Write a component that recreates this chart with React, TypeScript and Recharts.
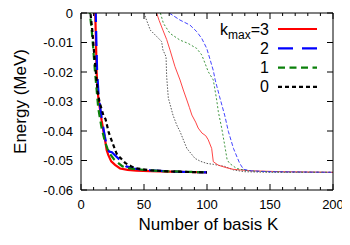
import React from "react";
import { LineChart, Line, XAxis, YAxis } from "recharts";

// ---- data (K = number of basis, E = energy in MeV) ----
const k3K = [10.8, 11.3, 11.9, 12.4, 13.0, 13.7, 14.5, 16.4, 18.0, 19.0, 20.4, 21.7, 24.0, 27.0, 31.0, 37.0, 44.0, 55.0, 70.0, 85.0, 100.0];
const k3E = [0.002, 0.0, -0.01, -0.02, -0.025, -0.0284, -0.031, -0.0365, -0.0405, -0.0428, -0.0465, -0.0482, -0.0503, -0.0515, -0.0527, -0.0532, -0.0534, -0.0536, -0.0538, -0.0539, -0.054];

const k2K = [11.3, 11.7, 12.2, 12.8, 14.0, 16.5, 19.0, 21.0, 22.5, 24.5, 27.0, 30.0, 32.5, 36.0, 42.0, 47.0, 55.0, 70.0, 85.0, 100.0];
const k2E = [0.002, 0.0, -0.01, -0.02, -0.028, -0.036, -0.042, -0.0462, -0.047, -0.0472, -0.0482, -0.0495, -0.0505, -0.052, -0.0527, -0.053, -0.0533, -0.0537, -0.0539, -0.054];

const k1K = [6.7, 7.0, 8.5, 9.8, 11.0, 12.4, 13.7, 16.4, 19.0, 21.0, 23.0, 26.0, 28.3, 33.0, 40.0, 50.0, 65.0, 80.0, 100.0];
const k1E = [0.002, 0.0, -0.0058, -0.0125, -0.0193, -0.026, -0.0323, -0.0391, -0.0436, -0.046, -0.0478, -0.0495, -0.0504, -0.052, -0.0528, -0.0532, -0.0536, -0.0538, -0.054];

const k0K = [7.2, 7.5, 9.0, 10.3, 11.8, 13.2, 14.6, 17.7, 19.5, 22.0, 25.6, 28.3, 31.0, 35.0, 40.0, 44.0, 55.0, 70.0, 85.0, 100.0];
const k0E = [0.002, 0.0, -0.006, -0.013, -0.02, -0.0265, -0.03, -0.0346, -0.036, -0.0405, -0.0447, -0.0477, -0.049, -0.0508, -0.052, -0.0527, -0.0533, -0.0537, -0.0539, -0.054];

const t3K = [60, 62, 65, 68, 70.6, 74.6, 78.6, 81.2, 84, 86, 88, 91, 93, 96, 99, 101, 103.7, 105, 109, 115, 121, 135, 160, 200];
const t3E = [0.0, -0.0025, -0.0058, -0.009, -0.0125, -0.0182, -0.0227, -0.0261, -0.0295, -0.032, -0.0346, -0.037, -0.039, -0.0407, -0.0416, -0.043, -0.0459, -0.0504, -0.0516, -0.0524, -0.053, -0.0535, -0.0538, -0.054];

const t2K = [70, 78.6, 86.5, 91.8, 95.8, 99.8, 102.4, 105, 106.5, 110, 114, 117, 121, 124, 126, 129, 135, 150, 200];
const t2E = [0.0, -0.0024, -0.0041, -0.0063, -0.0086, -0.012, -0.0157, -0.0195, -0.0227, -0.0284, -0.0346, -0.0402, -0.0459, -0.049, -0.051, -0.053, -0.0535, -0.0538, -0.054];

const t1K = [63, 65.4, 70.6, 78.6, 85, 91.8, 95.8, 98.4, 101, 105, 107.7, 109, 111.7, 114, 116, 118, 123.5, 130, 140, 160, 200];
const t1E = [0.0, -0.0035, -0.0069, -0.0092, -0.0103, -0.012, -0.0142, -0.017, -0.0199, -0.0227, -0.0295, -0.0335, -0.0391, -0.0447, -0.0498, -0.051, -0.0527, -0.0533, -0.0537, -0.0539, -0.054];

const t0K = [50, 52, 55, 59, 62, 64, 65, 67.5, 68, 69.3, 73, 76, 78.6, 84, 90.5, 95, 100, 105, 114, 121, 130, 150, 200];
const t0E = [0.0, -0.0024, -0.0058, -0.0075, -0.0088, -0.0097, -0.0125, -0.0148, -0.0216, -0.0288, -0.0346, -0.038, -0.0402, -0.0459, -0.0493, -0.0503, -0.051, -0.0513, -0.052, -0.0532, -0.0538, -0.054, -0.054];

const xTicks = [0, 10, 20, 30, 40, 50, 60, 70, 80, 90, 100, 110, 120, 130, 140, 150, 160, 170, 180, 190, 200];
const xMajorLabels = ["0", "50", "100", "150", "200"];
const yTicks = [0, -0.01, -0.02, -0.03, -0.04, -0.05, -0.06];
const yTickLabels = ["0", "-0.01", "-0.02", "-0.03", "-0.04", "-0.05", "-0.06"];
const legendLabels = ["=3", "2", "1", "0"];

const toRows = (ks: number[], es: number[]) => ks.map((k, i) => ({ k, e: es[i] }));

const FONT = "'Liberation Sans', Arial, sans-serif";

const XTickBottom = (props: any) => {
  const { x, y, payload } = props;
  const v = payload.value;
  const major = v % 50 === 0;
  const lbl = xMajorLabels.find((l) => Number(l) === v);
  return (
    <g>
      <line x1={x} x2={x} y1={y} y2={y - (major ? 6 : 3)} stroke="#000" strokeWidth={1} />
      {major && lbl !== undefined && (
        <text x={x} y={y + 19} textAnchor="middle" fontSize={13} fontFamily={FONT} fill="#000">
          {lbl}
        </text>
      )}
    </g>
  );
};

const XTickTop = (props: any) => {
  const { x, y, payload } = props;
  const major = payload.value % 50 === 0;
  return <line x1={x} x2={x} y1={y} y2={y + (major ? 6 : 3)} stroke="#000" strokeWidth={1} />;
};

const YTickLeft = (props: any) => {
  const { x, y, payload } = props;
  const idx = yTicks.findIndex((t) => Math.abs(t - payload.value) < 1e-9);
  return (
    <g>
      <line x1={x} x2={x + 6} y1={y} y2={y} stroke="#000" strokeWidth={1} />
      <text x={x - 8} y={y + 4.5} textAnchor="end" fontSize={13} fontFamily={FONT} fill="#000">
        {idx >= 0 ? yTickLabels[idx] : ""}
      </text>
    </g>
  );
};

const YTickRight = (props: any) => {
  const { x, y } = props;
  return <line x1={x} x2={x - 6} y1={y} y2={y} stroke="#000" strokeWidth={1} />;
};

const thick = [
  { data: toRows(k3K, k3E), color: "#ff0000", dash: undefined as string | undefined },
  { data: toRows(k2K, k2E), color: "#0000ff", dash: "15 9" },
  { data: toRows(k1K, k1E), color: "#0a800a", dash: "7 4.5" },
  { data: toRows(k0K, k0E), color: "#000000", dash: "4 3" },
];

const thin = [
  { data: toRows(t0K, t0E), color: "#444444", dash: "1.5 1.5" },
  { data: toRows(t3K, t3E), color: "#ff3030", dash: undefined as string | undefined },
  { data: toRows(t1K, t1E), color: "#2a8a2a", dash: "2 2" },
  { data: toRows(t2K, t2E), color: "#3030ff", dash: "4 2" },
];

export default function App() {
  const W = 350;
  const H = 245;
  return (
    <div style={{ position: "relative", width: W, height: H, margin: "-8px 0 0 -8px" }}>
      <LineChart width={W} height={H} margin={{ top: 12, right: 16, bottom: 25, left: 51 }}>
        <XAxis
          xAxisId="b"
          type="number"
          dataKey="k"
          domain={[0, 200]}
          ticks={xTicks}
          allowDataOverflow
          height={30}
          tickSize={0}
          tickMargin={0}
          tickLine={false}
          axisLine={{ stroke: "#000", strokeWidth: 1 }}
          tick={(p: any) => <XTickBottom {...p} />}
          interval={0}
        />
        <XAxis
          xAxisId="top"
          orientation="top"
          type="number"
          dataKey="k"
          domain={[0, 200]}
          ticks={xTicks}
          allowDataOverflow
          height={1}
          tickSize={0}
          tickMargin={0}
          tickLine={false}
          axisLine={{ stroke: "#000", strokeWidth: 1 }}
          tick={(p: any) => <XTickTop {...p} />}
          interval={0}
        />
        <YAxis
          yAxisId="l"
          type="number"
          domain={[-0.06, 0]}
          ticks={yTicks}
          allowDataOverflow
          width={30}
          tickSize={0}
          tickMargin={0}
          tickLine={false}
          axisLine={{ stroke: "#000", strokeWidth: 1 }}
          tick={(p: any) => <YTickLeft {...p} />}
          interval={0}
        />
        <YAxis
          yAxisId="right"
          orientation="right"
          type="number"
          domain={[-0.06, 0]}
          ticks={yTicks}
          allowDataOverflow
          width={1}
          tickSize={0}
          tickMargin={0}
          tickLine={false}
          axisLine={{ stroke: "#000", strokeWidth: 1 }}
          tick={(p: any) => <YTickRight {...p} />}
          interval={0}
        />
        {thin.map((s, i) => (
          <Line
            key={"thin" + i}
            xAxisId="b"
            yAxisId="l"
            data={s.data}
            dataKey="e"
            type="linear"
            stroke={s.color}
            strokeWidth={0.9}
            strokeDasharray={s.dash}
            dot={false}
            activeDot={false}
            isAnimationActive={false}
          />
        ))}
        {thick.map((s, i) => (
          <Line
            key={"thick" + i}
            xAxisId="b"
            yAxisId="l"
            data={s.data}
            dataKey="e"
            type="linear"
            stroke={s.color}
            strokeWidth={2.2}
            strokeDasharray={s.dash}
            dot={false}
            activeDot={false}
            isAnimationActive={false}
          />
        ))}
      </LineChart>
      <svg
        width={W}
        height={H}
        style={{ position: "absolute", left: 0, top: 0, pointerEvents: "none" }}
      >
        <text
          transform="translate(26,101.5) rotate(-90)"
          textAnchor="middle"
          fontSize={17}
          fontFamily={FONT}
          fill="#000"
        >
          Energy (MeV)
        </text>
        <text x={208.5} y={230} textAnchor="middle" fontSize={17} fontFamily={FONT} fill="#000">
          Number of basis K
        </text>
        {thick.map((s, i) => {
          const cy = 29 + i * 19.3;
          return (
            <g key={"leg" + i}>
              <text x={269} y={cy + 5.5} textAnchor="end" fontSize={16} fontFamily={FONT} fill="#000">
                {i === 0 ? (
                  <>
                    <tspan>k</tspan>
                    <tspan dy={4} fontSize={12}>max</tspan>
                    <tspan dy={-4}>{legendLabels[i]}</tspan>
                  </>
                ) : (
                  legendLabels[i]
                )}
              </text>
              <line
                x1={278}
                x2={317}
                y1={cy}
                y2={cy}
                stroke={s.color}
                strokeWidth={2.2}
                strokeDasharray={s.dash}
              />
            </g>
          );
        })}
      </svg>
    </div>
  );
}
